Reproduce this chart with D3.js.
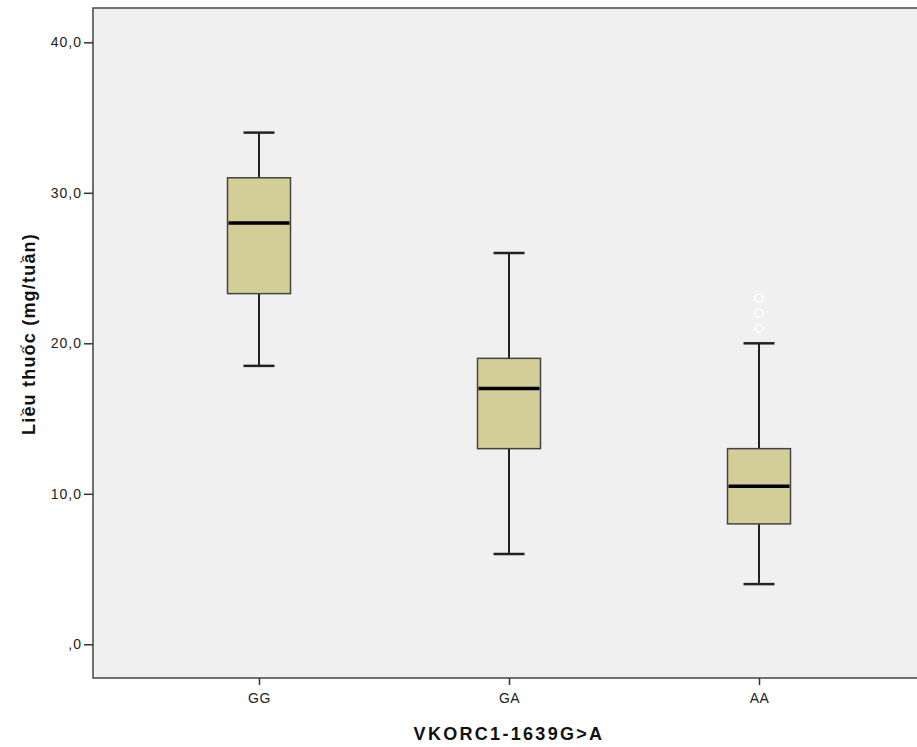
<!DOCTYPE html>
<html>
<head>
<meta charset="utf-8">
<script src="https://cdn.jsdelivr.net/npm/d3@7"></script>
<style>
  body { margin: 0; background: #fff; }
  svg { display: block; font-family: "Liberation Sans", Arial, sans-serif; }
</style>
</head>
<body>
<svg id="chart" width="917" height="747"></svg>
<script>
// box plot values (mg/tuần)
const groups = ["GG", "GA", "AA"];
const whiskerLow = [18.5, 6.0, 4.0];
const q1 = [23.3, 13.0, 8.0];
const median = [28.0, 17.0, 10.5];
const q3 = [31.0, 19.0, 13.0];
const whiskerHigh = [34.0, 26.0, 20.0];
const outliers = [[], [], [21.0, 22.0, 23.0]];
const yTicks = [0, 10, 20, 30, 40];

const svg = d3.select("#chart");
const plotLeft = 93, plotTop = 8, plotRight = 925, plotBottom = 678;

const x = d3.scalePoint()
    .domain(groups)
    .range([plotLeft, plotRight])
    .padding(0.664);

const y = d3.scaleLinear()
    .domain([0, 40])
    .range([644.3, 42.3]);

// plot background
svg.append("rect")
    .attr("x", plotLeft)
    .attr("y", plotTop)
    .attr("width", plotRight - plotLeft)
    .attr("height", plotBottom - plotTop)
    .attr("fill", "#f0f0f0")
    .attr("stroke", "#444")
    .attr("stroke-width", 1.5);

// axes
const yAxis = svg.append("g")
    .attr("transform", `translate(${plotLeft},0)`)
    .call(d3.axisLeft(y).tickValues(yTicks).tickSize(9).tickPadding(2)
        .tickFormat(d => d === 0 ? ",0" : d.toFixed(1).replace(".", ",")));
yAxis.select(".domain").remove();
yAxis.selectAll("line").attr("stroke", "#333").attr("stroke-width", 1.5);
yAxis.selectAll("text").attr("font-size", 14).attr("fill", "#222")
    .attr("letter-spacing", 1)
    .style("font-family", "'Liberation Sans', Arial, sans-serif");

const xAxis = svg.append("g")
    .attr("transform", `translate(0,${plotBottom})`)
    .call(d3.axisBottom(x).tickSize(7).tickPadding(8));
xAxis.select(".domain").remove();
xAxis.selectAll("line").attr("stroke", "#333").attr("stroke-width", 1.5);
xAxis.selectAll("text").attr("font-size", 14).attr("fill", "#222")
    .attr("letter-spacing", 0.5)
    .style("font-family", "'Liberation Sans', Arial, sans-serif");

// boxes
const boxW = 63, capW = 31;
const data = groups.map((g, i) => ({
    g, lo: whiskerLow[i], q1: q1[i], med: median[i], q3: q3[i], hi: whiskerHigh[i], out: outliers[i]
}));

const box = svg.selectAll(".box")
    .data(data)
    .join("g")
    .attr("class", "box");

// whisker stems
box.append("line")
    .attr("x1", d => x(d.g)).attr("x2", d => x(d.g))
    .attr("y1", d => y(d.hi)).attr("y2", d => y(d.q3))
    .attr("stroke", "#222").attr("stroke-width", 2);
box.append("line")
    .attr("x1", d => x(d.g)).attr("x2", d => x(d.g))
    .attr("y1", d => y(d.q1)).attr("y2", d => y(d.lo))
    .attr("stroke", "#222").attr("stroke-width", 2);

// caps
box.append("line")
    .attr("x1", d => x(d.g) - capW / 2).attr("x2", d => x(d.g) + capW / 2)
    .attr("y1", d => y(d.hi)).attr("y2", d => y(d.hi))
    .attr("stroke", "#222").attr("stroke-width", 2.5);
box.append("line")
    .attr("x1", d => x(d.g) - capW / 2).attr("x2", d => x(d.g) + capW / 2)
    .attr("y1", d => y(d.lo)).attr("y2", d => y(d.lo))
    .attr("stroke", "#222").attr("stroke-width", 2.5);

box.append("rect")
    .attr("x", d => x(d.g) - boxW / 2)
    .attr("width", boxW)
    .attr("y", d => y(d.q3))
    .attr("height", d => y(d.q1) - y(d.q3))
    .attr("fill", "#d3ce97")
    .attr("stroke", "#444")
    .attr("stroke-width", 1.5);

box.append("line")
    .attr("x1", d => x(d.g) - boxW / 2 + 1).attr("x2", d => x(d.g) + boxW / 2 - 1)
    .attr("y1", d => y(d.med)).attr("y2", d => y(d.med))
    .attr("stroke", "#000").attr("stroke-width", 3.5);

// outliers
box.selectAll(".outlier")
    .data(d => d.out.map(v => ({ g: d.g, v })))
    .join("circle")
    .attr("class", "outlier")
    .attr("cx", d => x(d.g))
    .attr("cy", d => y(d.v))
    .attr("r", 4)
    .attr("fill", "none")
    .attr("stroke", "#fff")
    .attr("stroke-width", 1.5);

// axis titles
svg.append("text")
    .attr("x", x("GA"))
    .attr("y", 740)
    .attr("text-anchor", "middle")
    .attr("font-size", 18)
    .attr("font-weight", "bold")
    .attr("letter-spacing", 2.3)
    .attr("fill", "#111")
    .text("VKORC1-1639G>A");

svg.append("text")
    .attr("transform", "translate(35,334) rotate(-90)")
    .attr("text-anchor", "middle")
    .attr("font-size", 18)
    .attr("font-weight", "bold")
    .attr("letter-spacing", 1.2)
    .attr("fill", "#111")
    .text("Liều thuốc (mg/tuần)");
</script>
</body>
</html>
